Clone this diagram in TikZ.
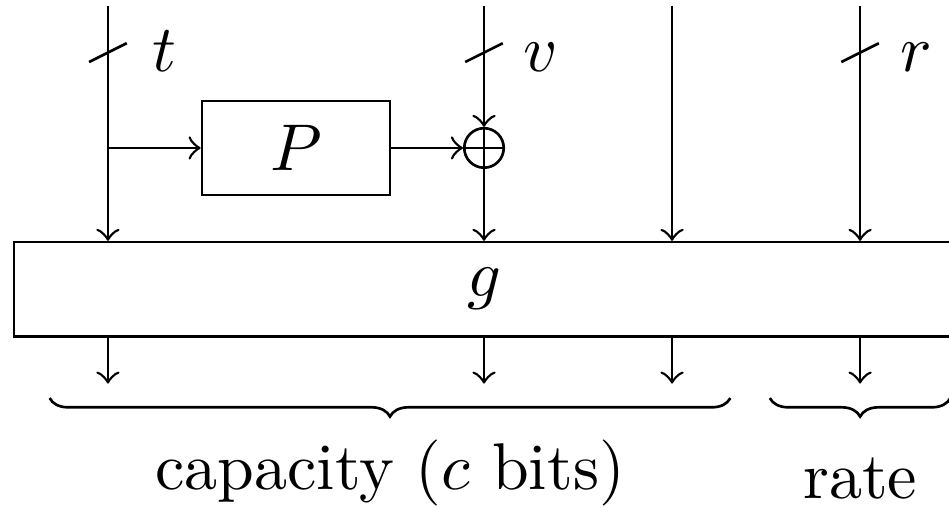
\documentclass[tikz,border=0pt]{standalone}
\usepackage{latexsym,amssymb}
\usetikzlibrary{calc,decorations.pathreplacing}

\tikzset{
  block/.style={draw,minimum width=1cm,minimum height=0.5cm,inner sep=0pt},
  xorgate/.style={draw,circle,thin,minimum size=0.21cm,inner sep=0pt,
    path picture={\draw[thin] (path picture bounding box.north) -- (path picture bounding box.south)
      (path picture bounding box.west) -- (path picture bounding box.east);}},
  underbrace/.style={decorate,decoration={brace,mirror,amplitude=2.8pt}}
}

\begin{document}
\begin{tikzpicture}
    \useasboundingbox (-0.574,0) rectangle (4.473,-2.707);

    \foreach \i/\x in {0/0,1/2,2/3,3/4} {
      \coordinate (in\i) at (\x,-0.03);
      \coordinate (out\i) at (\x,-2.04);
    }

    \node[block] (P) at (1,-0.787) {$P$};
    \node[xorgate] (xor) at (2,-0.787) {};
    \node[draw,minimum width=5cm,minimum height=0.5cm] (g) at (2,-1.538) {$g$};

    % bus widths
    \foreach \i/\lab in {0/t,1/v,3/r} {
      \draw ($(in\i)+(-0.1,-0.3)$) -- ($(in\i)+(0.1,-0.2)$);
      \node[anchor=base] (lab\i) at ($(in\i)+(0.3,-0.353)$) {$\lab$};
    }

    \draw[->] (in0) -- (in0 |- g.north);
    \draw[->] (in0 |- P.west) -- (P.west);
    \draw[->] (P.east) -- (xor.west);
    \draw[->] (in1) -- (xor.north);
    \draw[->] (xor.south) -- (xor |- g.north);
    \draw[->] (in2) -- (in2 |- g.north);
    \draw[->] (in3) -- (in3 |- g.north);
    \foreach \i in {0,...,3}
      \draw[->] (out\i |- g.south) -- (out\i);

    \draw[underbrace] (-0.31,-2.117) -- (3.31,-2.117);
    \draw[underbrace] (3.52,-2.117) -- (4.48,-2.117);
    \node[anchor=base] (cap) at (1.5,-2.601) {capacity ($c$ bits)};
    \node[anchor=base] (rate) at (4,-2.649) {rate};
\end{tikzpicture}
\end{document}
